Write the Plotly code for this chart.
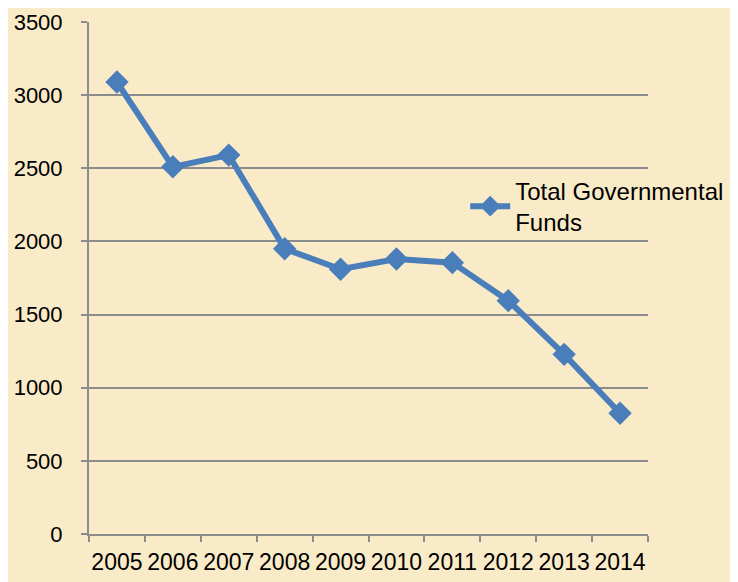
import plotly.graph_objects as go

years = ["2005", "2006", "2007", "2008", "2009", "2010", "2011", "2012", "2013", "2014"]
funds = [3090, 2510, 2590, 1950, 1810, 1880, 1855, 1595, 1228, 825]
series_name = "Total Governmental<br>Funds"

BG = "#F9EAC8"
BLUE = "#4A7EBB"
GRID = "#8C8C8C"
FONT = "Liberation Sans"

fig = go.Figure()
fig.add_trace(go.Scatter(
    x=years, y=funds, name=series_name, mode="lines+markers",
    line=dict(color=BLUE, width=6),
    marker=dict(symbol="diamond", size=18, color=BLUE),
))

fig.update_layout(
    width=738, height=582,
    paper_bgcolor=BG, plot_bgcolor=BG,
    margin=dict(l=81, r=98, t=14, b=56),
    font=dict(family=FONT, size=24, color="#000000"),
    showlegend=True,
    legend=dict(
        x=0.673, y=0.714, xanchor="left", yanchor="top",
        bgcolor="rgba(0,0,0,0)", font=dict(size=24, family=FONT),
        itemwidth=40,
    ),
    xaxis=dict(
        type="category", range=[-0.5, 9.5], tickson="boundaries",
        ticks="outside", ticklen=6, tickcolor=GRID, tickwidth=2,
        showline=True, linecolor=GRID, linewidth=2, showgrid=False,
        tickfont=dict(size=23, family=FONT), tickangle=0,
        ticklabelstandoff=6,
        automargin=False, fixedrange=True,
    ),
    yaxis=dict(
        range=[0, 3500], dtick=500, tick0=0,
        ticks="outside", ticklen=6, tickcolor=GRID, tickwidth=2,
        showline=True, linecolor=GRID, linewidth=2,
        showgrid=True, gridcolor=GRID, gridwidth=2,
        zeroline=False, ticklabelstandoff=14, automargin=False,
        tickfont=dict(size=22, family=FONT),
    ),
)

fig.write_html("out.html")
